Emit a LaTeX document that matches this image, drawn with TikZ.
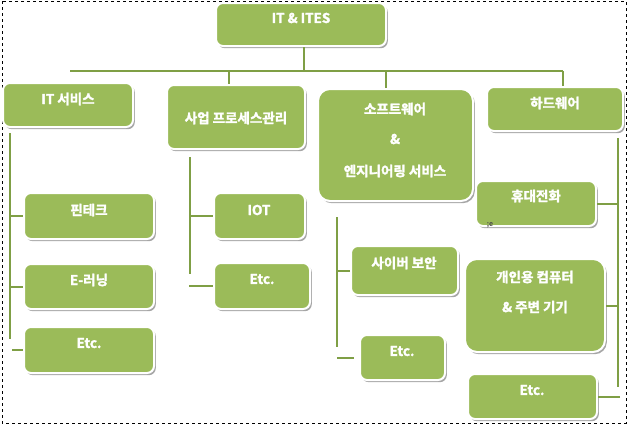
\documentclass[tikz,border=0pt]{standalone}
\usepackage{fontspec}
\newfontfamily\kr[AutoFakeBold=2]{Noto Sans CJK KR Bold}
\usetikzlibrary{shadows}
\definecolor{gfill}{HTML}{9BBB59}
\definecolor{gline}{HTML}{7F9F45}
\begin{document}
\begin{tikzpicture}[x=1pt,y=-1pt,
  gbox/.style={draw=white, line width=2pt, fill=gfill, rounded corners=7pt,
    inner sep=0pt, drop shadow={shadow xshift=1.8pt, shadow yshift=-2.2pt, fill=black, opacity=0.35}},
  lbl/.style={text=white, font=\kr\bfseries\fontsize{13.5}{15}\selectfont, inner sep=0pt, anchor=center},
  conn/.style={draw=gline, line width=2pt}]
\useasboundingbox (0,0) rectangle (628,424);
\draw[dashed, line width=0.6pt] (2,1) rectangle (626,423);

% boxes
\node[gbox, minimum width=170pt, minimum height=43pt] (root) at (301,24.5) {};
\node[gbox, minimum width=130pt, minimum height=44pt] (its) at (68,105) {};
\node[gbox, minimum width=138pt, minimum height=64pt] (biz) at (236,117) {};
\node[gbox, minimum width=155pt, minimum height=112pt, rounded corners=12pt] (soft) at (395.5,145) {};
\node[gbox, minimum width=136pt, minimum height=44pt] (hw) at (555,109) {};
\node[gbox, minimum width=120pt, minimum height=45pt] (phone) at (536,203.5) {};
\node[gbox, minimum width=130pt, minimum height=46pt] (fin) at (89,216) {};
\node[gbox, minimum width=130pt, minimum height=45pt] (elearn) at (89,286.5) {};
\node[gbox, minimum width=130pt, minimum height=46pt] (etcA) at (89,350) {};
\node[gbox, minimum width=91pt, minimum height=46pt] (iot) at (259.5,216) {};
\node[gbox, minimum width=96pt, minimum height=46pt] (etcB) at (262,286) {};
\node[gbox, minimum width=107pt, minimum height=49pt] (cyber) at (404.5,270.5) {};
\node[gbox, minimum width=85pt, minimum height=45pt] (etcC) at (402.5,357.5) {};
\node[gbox, minimum width=140pt, minimum height=93pt, rounded corners=12pt] (pc) at (535,305.5) {};
\node[gbox, minimum width=129pt, minimum height=45pt] (etcD) at (532.5,396.5) {};

% labels
\node[lbl] (troot) at (301,18) {IT \& ITES};
\node[lbl] (tits) at (68,99) {IT 서비스};
\node[lbl] (tbiz) at (236,118) {사업 프로세스관리};
\node[lbl] (tsoft1) at (395,109) {소프트웨어};
\node[lbl] (tsoft2) at (395,139) {\&};
\node[lbl] (tsoft3) at (395,171) {엔지니어링 서비스};
\node[lbl] (thw) at (555,103) {하드웨어};
\node[lbl] (tphone) at (536,196) {휴대전화};
\node[lbl] (tfin) at (89,210) {핀테크};
\node[lbl] (telearn) at (89,280) {E-러닝};
\node[lbl] (tetcA) at (89,343) {Etc.};
\node[lbl] (tiot) at (259,210) {IOT};
\node[lbl] (tetcB) at (262,279) {Etc.};
\node[lbl] (tcyber) at (404,263) {사이버 보안};
\node[lbl] (tetcC) at (402,351) {Etc.};
\node[lbl] (tpc1) at (535,277) {개인용 컴퓨터};
\node[lbl] (tpc2) at (535,307) {\& 주변 기기};
\node[lbl] (tetcD) at (532,390) {Etc.};
\node[text=black!70, font=\kr\fontsize{7}{8}\selectfont, inner sep=0pt] (stray) at (490,225) {;e};

% connector points
\coordinate (bus) at (304,71);
\coordinate (busL) at (70,71);
\coordinate (busR) at (563,71);
\coordinate (dB) at (229,71);
\coordinate (dS) at (386,71);
\coordinate (vItsT) at (10,133);
\coordinate (vItsB) at (10,339);
\coordinate (vBizT) at (190,157);
\coordinate (vBizB) at (190,274);
\coordinate (vSoftT) at (337,217);
\coordinate (vSoftB) at (337,347);
\coordinate (vHwT) at (618,138);
\coordinate (vHwB) at (618,387);

\draw[conn] (root.south -| bus) -- (bus);
\draw[conn] (busL) -- (busR);
\draw[conn] (dB) -- (dB |- biz.north);
\draw[conn] (dS) -- (dS |- soft.north);
\draw[conn] (busR) -- (busR |- hw.north);

\draw[conn] (vItsT) -- (vItsB);
\draw[conn] (vItsT |- fin.west) -- (fin.west);
\draw[conn] (vItsT |- elearn.west) -- (elearn.west);
\draw[conn] ([xshift=2pt]vItsT |- etcA.west) -- (etcA.west);

\draw[conn] (vBizT) -- (vBizB);
\draw[conn] (vBizT |- iot.west) -- (iot.west);
\draw[conn] ([xshift=-1pt]vBizT |- etcB.west) -- (etcB.west);

\draw[conn] (vSoftT) -- (vSoftB);
\draw[conn] (vSoftT |- cyber.west) -- (cyber.west);
\draw[conn] (vSoftT |- etcC.west) -- ([xshift=-5pt]etcC.west);

\draw[conn] (vHwT) -- (vHwB);
\draw[conn] (vHwT |- phone.east) -- (phone.east);
\draw[conn] (vHwT |- pc.east) -- (pc.east);
\draw[conn] ([xshift=2pt]vHwT |- etcD.east) -- (etcD.east);
\end{tikzpicture}
\end{document}
